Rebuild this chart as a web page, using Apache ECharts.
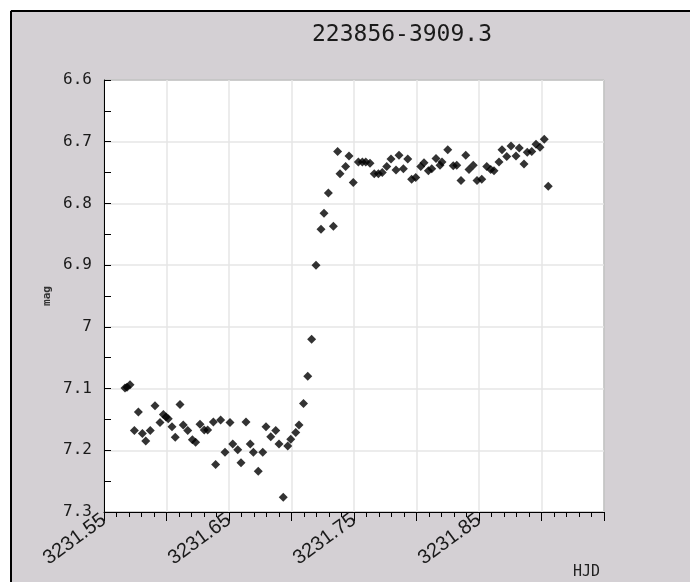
<!DOCTYPE html>
<html>
<head>
<meta charset="utf-8">
<title>223856-3909.3</title>
<script src="https://cdn.jsdelivr.net/npm/echarts@6.0.0/dist/echarts.min.js"></script>
<style>
  html, body { margin: 0; padding: 0; background: #fff; }
  #lightCurve { width: 690px; height: 582px; }
</style>
</head>
<body>
<div id="lightCurve"></div>
<script>
const hjd = [
  3231.5668, 3231.5684, 3231.5708, 3231.5743, 3231.5775, 3231.5807, 3231.5834, 3231.5870,
  3231.5908, 3231.5948, 3231.5975, 3231.5996, 3231.6014, 3231.6044, 3231.6070, 3231.6108,
  3231.6134, 3231.6170, 3231.6207, 3231.6233, 3231.6268, 3231.6302, 3231.6329, 3231.6375,
  3231.6393, 3231.6433, 3231.6468, 3231.6508, 3231.6530, 3231.6570, 3231.6596, 3231.6636,
  3231.6670, 3231.6695, 3231.6734, 3231.6770, 3231.6796, 3231.6834, 3231.6874, 3231.6900,
  3231.6934, 3231.6970, 3231.6994, 3231.7034, 3231.7060, 3231.7096, 3231.7130, 3231.7161,
  3231.7196, 3231.7236, 3231.7260, 3231.7295, 3231.7335, 3231.7369, 3231.7388, 3231.7433,
  3231.7460, 3231.7494, 3231.7535, 3231.7567, 3231.7594, 3231.7628, 3231.7662, 3231.7695,
  3231.7726, 3231.7762, 3231.7796, 3231.7836, 3231.7860, 3231.7895, 3231.7930, 3231.7961,
  3231.7994, 3231.8034, 3231.8060, 3231.8095, 3231.8122, 3231.8156, 3231.8188, 3231.8204,
  3231.8250, 3231.8294, 3231.8322, 3231.8356, 3231.8394, 3231.8420, 3231.8454, 3231.8484,
  3231.8522, 3231.8562, 3231.8594, 3231.8620, 3231.8660, 3231.8684, 3231.8722, 3231.8756,
  3231.8796, 3231.8822, 3231.8860, 3231.8886, 3231.8922, 3231.8956, 3231.8988, 3231.9022,
  3231.9054
];
const mag = [
  7.099, 7.098, 7.094, 7.168, 7.138, 7.173, 7.185, 7.168,
  7.128, 7.155, 7.142, 7.146, 7.149, 7.162, 7.179, 7.126,
  7.159, 7.168, 7.183, 7.187, 7.158, 7.167, 7.167, 7.154,
  7.223, 7.151, 7.203, 7.155, 7.190, 7.199, 7.220, 7.154,
  7.190, 7.203, 7.234, 7.203, 7.162, 7.178, 7.168, 7.190,
  7.276, 7.193, 7.182, 7.171, 7.159, 7.124, 7.080, 7.020,
  6.900, 6.842, 6.816, 6.783, 6.837, 6.716, 6.752, 6.740,
  6.723, 6.766, 6.733, 6.733, 6.733, 6.735, 6.752, 6.752,
  6.750, 6.740, 6.728, 6.746, 6.722, 6.744, 6.728, 6.761,
  6.758, 6.740, 6.734, 6.747, 6.744, 6.727, 6.738, 6.733,
  6.713, 6.739, 6.738, 6.763, 6.722, 6.745, 6.738, 6.763,
  6.761, 6.740, 6.745, 6.747, 6.733, 6.713, 6.724, 6.707,
  6.723, 6.710, 6.736, 6.717, 6.716, 6.704, 6.709, 6.696,
  6.772
];
const xLabels = ['3231.55', '3231.65', '3231.75', '3231.85'];

const points = hjd.map((t, i) => [t, mag[i]]);
const mono = '"DejaVu Sans Mono", monospace';

const chart = echarts.init(document.getElementById('lightCurve'), null, { renderer: 'canvas' });
chart.setOption({
  animation: false,
  backgroundColor: '#d4d0d4',
  title: {
    text: '223856-3909.3',
    left: 307,
    top: 19,
    textStyle: { fontFamily: mono, fontSize: 23, fontWeight: 'normal', color: '#1a1a1a' }
  },
  graphic: [
    // white margin + black frame edge at top/left
    { type: 'rect', shape: { x: 0, y: 0, width: 690, height: 10 }, style: { fill: '#fff' } },
    { type: 'rect', shape: { x: 0, y: 0, width: 10, height: 582 }, style: { fill: '#fff' } },
    { type: 'line', shape: { x1: 11, y1: 11, x2: 690, y2: 11 }, style: { stroke: '#000', lineWidth: 2 } },
    { type: 'line', shape: { x1: 11, y1: 11, x2: 11, y2: 582 }, style: { stroke: '#000', lineWidth: 2 } },
    {
      type: 'text', left: 573, top: 565,
      style: { text: 'HJD', fontFamily: mono, fontSize: 15, fill: '#222' }
    }
  ],
  grid: {
    left: 104, top: 80, width: 500, height: 432,
    show: true, backgroundColor: '#fff', borderColor: '#000', borderWidth: 1
  },
  xAxis: {
    type: 'value',
    min: 3231.55,
    max: 3231.95,
    interval: 0.05,
    axisLine: { onZero: false, lineStyle: { color: '#000', width: 1 } },
    axisTick: { inside: false, length: 9, lineStyle: { color: '#000' } },
    minorTick: { show: true, splitNumber: 5, length: 5, lineStyle: { color: '#000' } },
    splitLine: { show: true, lineStyle: { color: '#e6e6e6', width: 1.5 } },
    axisLabel: {
      rotate: 36,
      margin: 6,
      fontFamily: '"Liberation Sans", Arial, sans-serif',
      fontSize: 20,
      color: '#1a1a1a',
      formatter: v => {
        const s = v.toFixed(2);
        return xLabels.includes(s) ? s : '';
      }
    }
  },
  yAxis: {
    type: 'value',
    inverse: true,
    min: 6.6,
    max: 7.3,
    interval: 0.1,
    name: 'mag',
    nameLocation: 'middle',
    nameRotate: 90,
    nameGap: 46,
    nameTextStyle: { fontFamily: mono, fontSize: 11, fontWeight: 'bold', color: '#333' },
    axisLine: { lineStyle: { color: '#000', width: 1 } },
    axisTick: { inside: true, length: 7, lineStyle: { color: '#000' } },
    minorTick: { show: true, splitNumber: 2, length: 7, lineStyle: { color: '#000' } },
    splitLine: { show: true, lineStyle: { color: '#e6e6e6', width: 1.5 } },
    axisLabel: {
      margin: 12,
      fontFamily: mono,
      fontSize: 16,
      color: '#1a1a1a',
      formatter: v => String(Math.round(v * 10) / 10)
    }
  },
  series: [
    {
      type: 'scatter',
      symbol: 'diamond',
      symbolSize: 9,
      itemStyle: { color: '#000' },
      data: points
    }
  ]
});
</script>
</body>
</html>
